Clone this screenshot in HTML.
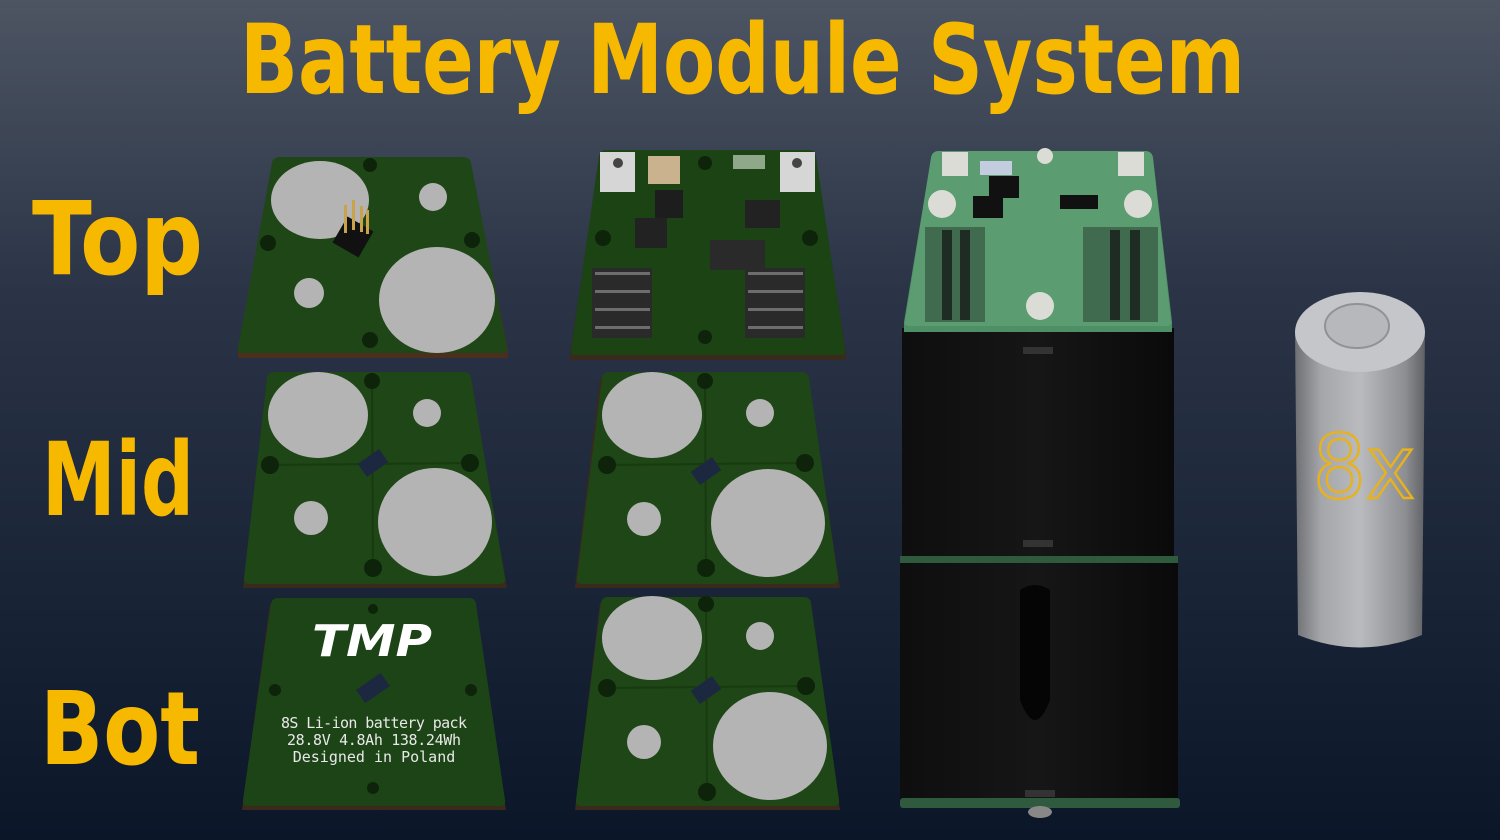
<!DOCTYPE html>
<html><head><meta charset="utf-8"><style>
html,body{margin:0;padding:0;width:1500px;height:840px;overflow:hidden;background:#16223a}
svg{display:block}
</style></head><body>
<svg width="1500" height="840" viewBox="0 0 1500 840" xmlns="http://www.w3.org/2000/svg">
<defs>
<linearGradient id="bg" x1="0" y1="0" x2="0" y2="1">
<stop offset="0" stop-color="#4d5563"/><stop offset="0.35" stop-color="#2a3446"/><stop offset="1" stop-color="#0b1629"/>
</linearGradient>
<linearGradient id="cell" x1="0" y1="0" x2="1" y2="0">
<stop offset="0" stop-color="#6d6f73"/><stop offset="0.2" stop-color="#a4a6a9"/><stop offset="0.5" stop-color="#b9bbbe"/><stop offset="0.85" stop-color="#8c8e91"/><stop offset="1" stop-color="#5f6165"/>
</linearGradient>
<linearGradient id="box" x1="0" y1="0" x2="1" y2="0">
<stop offset="0" stop-color="#0e0e0e"/><stop offset="0.5" stop-color="#161616"/><stop offset="1" stop-color="#0a0a0a"/>
</linearGradient>
</defs>
<rect width="1500" height="840" fill="url(#bg)"/>

<text x="240" y="93" font-family="DejaVu Sans, Liberation Sans, sans-serif" font-weight="bold" font-size="96" fill="#f7b800" textLength="1005" lengthAdjust="spacingAndGlyphs">Battery Module System</text>
<g font-family="DejaVu Sans, Liberation Sans, sans-serif" font-weight="bold" font-size="102" fill="#f7b800">
<text x="32" y="274" textLength="171" lengthAdjust="spacingAndGlyphs">Top</text>
<text x="42" y="515" textLength="152" lengthAdjust="spacingAndGlyphs">Mid</text>
<text x="40" y="764" textLength="160" lengthAdjust="spacingAndGlyphs">Bot</text>
</g>

<!-- Top-left board -->
<path d="M272,166 Q273,160 280,160 L462,160 Q470,160 471,166 L508,350 L508,358 L238,358 L238,350 Z" fill="#4a2f1e"/>
<path d="M272,163 Q273,157 280,157 L462,157 Q470,157 471,163 L507,348 Q508,353 502,353 L244,353 Q237,353 238,348 Z" fill="#1f4616"/>
<ellipse cx="320" cy="200" rx="49" ry="39" fill="#b4b4b4"/>
<ellipse cx="437" cy="300" rx="58" ry="53" fill="#b4b4b4"/>
<circle cx="433" cy="197" r="14" fill="#b4b4b4"/><circle cx="309" cy="293" r="15" fill="#b4b4b4"/>
<g fill="#0d240a"><circle cx="370" cy="165" r="7"/><circle cx="268" cy="243" r="8"/><circle cx="472" cy="240" r="8"/><circle cx="370" cy="340" r="8"/></g>
<rect x="338" y="222" width="30" height="30" fill="#111" transform="rotate(30 353 237)"/>
<g fill="#c9a24a"><rect x="344" y="205" width="3" height="28"/><rect x="352" y="200" width="3" height="30"/><rect x="360" y="206" width="3" height="26"/><rect x="366" y="210" width="3" height="24"/></g>

<!-- Top-right board -->
<path d="M600,158 L815,158 L846,353 L846,360 L570,360 L570,353 Z" fill="#3a2a1c"/>
<path d="M606,150 L809,150 Q815,150 816,156 L845,350 Q846,355 840,355 L576,355 Q570,355 571,350 L599,156 Q600,150 606,150 Z" fill="#1c4313"/>
<rect x="600" y="152" width="35" height="40" fill="#d6d6d6"/><rect x="780" y="152" width="35" height="40" fill="#d6d6d6"/>
<circle cx="618" cy="163" r="5" fill="#444"/><circle cx="797" cy="163" r="5" fill="#444"/>
<rect x="648" y="156" width="32" height="28" fill="#cbb28f"/>
<rect x="733" y="155" width="32" height="14" fill="#8fa88a"/>
<rect x="655" y="190" width="28" height="28" fill="#1d1d1d"/><rect x="635" y="218" width="32" height="30" fill="#222"/>
<rect x="745" y="200" width="35" height="28" fill="#222"/>
<g fill="#2a2a2a">
<rect x="592" y="268" width="60" height="70"/><rect x="745" y="268" width="60" height="70"/><rect x="710" y="240" width="55" height="30"/>
</g>
<g fill="#9a9a9a" opacity="0.6">
<rect x="595" y="272" width="55" height="3"/><rect x="595" y="290" width="55" height="3"/><rect x="595" y="308" width="55" height="3"/><rect x="595" y="326" width="55" height="3"/>
<rect x="748" y="272" width="55" height="3"/><rect x="748" y="290" width="55" height="3"/><rect x="748" y="308" width="55" height="3"/><rect x="748" y="326" width="55" height="3"/>
</g>
<g fill="#0d240a"><circle cx="705" cy="163" r="7"/><circle cx="603" cy="238" r="8"/><circle cx="810" cy="238" r="8"/><circle cx="705" cy="337" r="7"/></g>

<!-- Mid-left board -->
<path d="M267,378 L470,378 L507,588 L243,588 Z" fill="#3a2a1c"/>
<path d="M274,372 L464,372 Q470,372 471,378 L505,578 Q506,584 499,584 L250,584 Q243,584 244,578 L267,378 Q268,372 274,372 Z" fill="#1f4616"/>
<g stroke="#183a10" stroke-width="2"><line x1="372" y1="380" x2="373" y2="570"/><line x1="270" y1="465" x2="470" y2="463"/></g>
<ellipse cx="318" cy="415" rx="50" ry="43" fill="#b4b4b4"/>
<ellipse cx="435" cy="522" rx="57" ry="54" fill="#b4b4b4"/>
<circle cx="427" cy="413" r="14" fill="#b4b4b4"/><circle cx="311" cy="518" r="17" fill="#b4b4b4"/>
<rect x="360" y="455" width="26" height="16" fill="#1b2840" transform="rotate(-35 373 463)"/>
<g fill="#0d240a"><circle cx="372" cy="381" r="8"/><circle cx="270" cy="465" r="9"/><circle cx="470" cy="463" r="9"/><circle cx="373" cy="568" r="9"/></g>

<!-- Mid-right board -->
<path d="M600,378 L808,378 L840,588 L575,588 Z" fill="#3a2a1c"/>
<path d="M609,372 L802,372 Q808,372 809,378 L838,578 Q839,584 832,584 L583,584 Q576,584 577,578 L602,378 Q603,372 609,372 Z" fill="#1f4616"/>
<g stroke="#183a10" stroke-width="2"><line x1="705" y1="380" x2="706" y2="570"/><line x1="607" y1="465" x2="805" y2="463"/></g>
<ellipse cx="652" cy="415" rx="50" ry="43" fill="#b4b4b4"/>
<ellipse cx="768" cy="523" rx="57" ry="54" fill="#b4b4b4"/>
<circle cx="760" cy="413" r="14" fill="#b4b4b4"/><circle cx="644" cy="519" r="17" fill="#b4b4b4"/>
<rect x="693" y="463" width="26" height="16" fill="#1b2840" transform="rotate(-35 706 471)"/>
<g fill="#0d240a"><circle cx="705" cy="381" r="8"/><circle cx="607" cy="465" r="9"/><circle cx="805" cy="463" r="9"/><circle cx="706" cy="568" r="9"/></g>

<!-- Bot-left board -->
<path d="M270,604 L475,604 L506,810 L242,810 Z" fill="#3a2a1c"/>
<path d="M278,598 L469,598 Q475,598 476,604 L505,800 Q506,806 499,806 L249,806 Q242,806 243,800 L271,604 Q272,598 278,598 Z" fill="#1d4416"/>
<g fill="#0d240a"><circle cx="373" cy="609" r="5"/><circle cx="275" cy="690" r="6"/><circle cx="471" cy="690" r="6"/><circle cx="373" cy="788" r="6"/></g>
<text x="372" y="656" text-anchor="middle" font-family="DejaVu Sans, Liberation Sans, sans-serif" font-weight="bold" font-style="italic" font-size="44" fill="#ffffff" textLength="120" lengthAdjust="spacingAndGlyphs">TMP</text>
<rect x="358" y="680" width="30" height="16" fill="#1b2840" transform="rotate(-35 373 688)"/>
<g font-family="DejaVu Sans Mono, Liberation Mono, monospace" font-size="15" fill="#e8e8e8" text-anchor="middle">
<text x="374" y="728" textLength="186" lengthAdjust="spacing">8S  Li-ion battery pack</text>
<text x="374" y="745" textLength="174" lengthAdjust="spacing">28.8V  4.8Ah  138.24Wh</text>
<text x="374" y="762">Designed in Poland</text>
</g>

<!-- Bot-right board -->
<path d="M600,603 L810,603 L840,810 L575,810 Z" fill="#3a2a1c"/>
<path d="M608,597 L804,597 Q810,597 811,603 L839,800 Q840,806 833,806 L582,806 Q575,806 576,800 L601,603 Q602,597 608,597 Z" fill="#1f4616"/>
<g stroke="#183a10" stroke-width="2"><line x1="706" y1="604" x2="707" y2="792"/><line x1="607" y1="688" x2="806" y2="686"/></g>
<ellipse cx="652" cy="638" rx="50" ry="42" fill="#b4b4b4"/>
<ellipse cx="770" cy="746" rx="57" ry="54" fill="#b4b4b4"/>
<circle cx="760" cy="636" r="14" fill="#b4b4b4"/><circle cx="644" cy="742" r="17" fill="#b4b4b4"/>
<rect x="693" y="682" width="26" height="16" fill="#1b2840" transform="rotate(-35 706 690)"/>
<g fill="#0d240a"><circle cx="706" cy="604" r="8"/><circle cx="607" cy="688" r="9"/><circle cx="806" cy="686" r="9"/><circle cx="707" cy="792" r="9"/></g>

<!-- Battery stack -->
<rect x="902" y="328" width="272" height="230" fill="url(#box)"/>
<rect x="900" y="556" width="278" height="7" fill="#2f5a3e"/>
<rect x="900" y="563" width="278" height="237" fill="url(#box)"/>
<rect x="900" y="798" width="280" height="10" rx="3" fill="#2f5a3e"/>
<path d="M1020,590 Q1035,580 1050,590 L1050,700 Q1035,740 1020,700 Z" fill="#050505"/>
<rect x="1023" y="347" width="30" height="7" fill="#333"/><rect x="1023" y="540" width="30" height="7" fill="#333"/><rect x="1025" y="790" width="30" height="7" fill="#333"/>
<ellipse cx="1040" cy="812" rx="12" ry="6" fill="#888"/>
<path d="M939,151 L1145,151 Q1152,151 1153,158 L1172,322 L1172,332 L904,332 L904,322 L931,158 Q932,151 939,151 Z" fill="#4e9065"/>
<path d="M939,151 L1145,151 Q1152,151 1153,158 L1171,322 Q1172,326 1165,326 L910,326 Q904,326 905,322 L931,158 Q932,151 939,151 Z" fill="#5b9c70"/>
<g fill="#dcdcd6"><rect x="942" y="152" width="26" height="24"/><rect x="1118" y="152" width="26" height="24"/>
<circle cx="942" cy="204" r="14"/><circle cx="1138" cy="204" r="14"/><circle cx="1040" cy="306" r="14"/><circle cx="1045" cy="156" r="8"/></g>
<rect x="980" y="161" width="32" height="14" fill="#c4cde0"/>
<g fill="#111"><rect x="989" y="176" width="30" height="22"/><rect x="973" y="196" width="30" height="22"/><rect x="1060" y="195" width="38" height="14"/>
<rect x="925" y="227" width="60" height="95" opacity="0.35"/><rect x="1083" y="227" width="75" height="95" opacity="0.35"/>
<rect x="960" y="230" width="10" height="90" opacity="0.7"/><rect x="942" y="230" width="10" height="90" opacity="0.7"/><rect x="1110" y="230" width="10" height="90" opacity="0.7"/><rect x="1130" y="230" width="10" height="90" opacity="0.7"/></g>

<!-- Cell -->
<path d="M1295,330 L1425,330 L1422,635 Q1360,660 1298,635 Z" fill="url(#cell)"/>
<ellipse cx="1360" cy="332" rx="65" ry="40" fill="#c4c6c9"/>
<ellipse cx="1357" cy="326" rx="32" ry="22" fill="#b6b8bb" stroke="#909295" stroke-width="2"/>
<text x="1313" y="498" font-family="DejaVu Sans, Liberation Sans, sans-serif" font-size="88" fill="none" stroke="#e8b21c" stroke-width="2.5" textLength="102" lengthAdjust="spacingAndGlyphs">8x</text>
</svg>
</body></html>
